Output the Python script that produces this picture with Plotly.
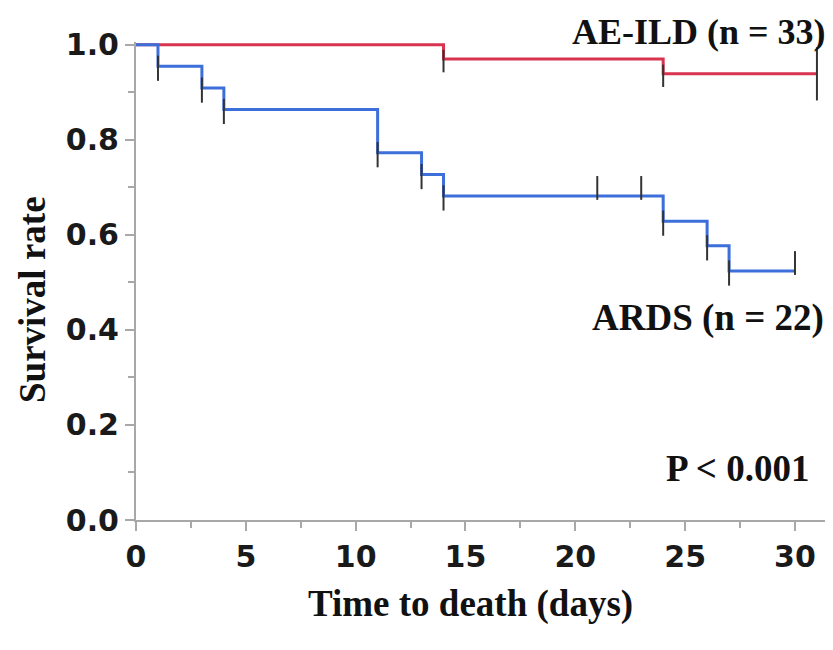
import plotly.graph_objects as go

# ---- data ----
ards_time = [0, 1, 3, 4, 11, 13, 14, 24, 26, 27, 30]
ards_surv = [1.0, 0.955, 0.909, 0.864, 0.773, 0.727, 0.682, 0.629, 0.577, 0.524, 0.524]
ards_event_time = [1, 3, 4, 11, 13, 14, 24, 26, 27]
ards_event_surv = [0.955, 0.909, 0.864, 0.773, 0.727, 0.682, 0.629, 0.577, 0.524]
ards_censor_time = [21, 23, 30]
ards_censor_surv = [0.682, 0.682, 0.524]

ae_time = [0, 14, 24, 31]
ae_surv = [1.0, 0.970, 0.939, 0.939]
ae_event_time = [14, 24]
ae_event_surv = [0.970, 0.939]
ae_censor_time = [31]
ae_censor_surv = [0.939]

x_ticks = [0, 5, 10, 15, 20, 25, 30]
y_ticks = [0.0, 0.2, 0.4, 0.6, 0.8, 1.0]
y_ticklabels = ["0.0", "0.2", "0.4", "0.6", "0.8", "1.0"]

RED = "#d9344f"
BLUE = "#3d6fdb"
TICKC = "#333333"
AXC = "#a8a8a8"

# page body has an 8px default margin; compensate so the picture lines up
OFF = 8
W, H = 833 - OFF, 650 - OFF
ML, MR, MT, MB = 136 - OFF, 0, 42 - OFF, 130
PLOT_H = H - MT - MB
Y_TOP = 1.006
px = Y_TOP / PLOT_H

def py(pix):
    # target-image pixel row -> paper y
    return (H - MB - (pix - OFF)) / PLOT_H

def pxp(pix):
    # target-image pixel col -> paper x
    return ((pix - OFF) - ML) / (W - ML - MR)

fig = go.Figure()

fig.add_trace(go.Scatter(x=ae_time, y=ae_surv, mode="lines", line_shape="hv",
                         line=dict(color=RED, width=3), hoverinfo="skip"))
fig.add_trace(go.Scatter(x=ards_time, y=ards_surv, mode="lines", line_shape="hv",
                         line=dict(color=BLUE, width=3), hoverinfo="skip"))

def ticks(xs, ys, off_px, size):
    return go.Scatter(
        x=xs, y=[v + off_px * px for v in ys], mode="markers",
        marker=dict(symbol="line-ns", size=size, color=TICKC,
                    line=dict(color=TICKC, width=2)),
        hoverinfo="skip", cliponaxis=False)

fig.add_trace(ticks(ards_event_time, ards_event_surv, -2, 18))
fig.add_trace(ticks(ae_event_time, ae_event_surv, -2, 16))
fig.add_trace(ticks(ards_censor_time, ards_censor_surv, 8, 17))
fig.add_trace(ticks(ae_censor_time, ae_censor_surv, 0, 38))

tickfont = dict(family="DejaVu Sans", size=30, color="#1a1a1a", weight=600)
annfont = dict(family="Liberation Serif", size=37, color="#111111", weight="bold")
topfont = dict(family="Liberation Serif", size=36, color="#111111", weight="bold")

fig.update_layout(
    width=W, height=H,
    margin=dict(l=ML, r=MR, t=MT, b=MB),
    paper_bgcolor="white", plot_bgcolor="white",
    showlegend=False,
    font=dict(family="Liberation Serif"),
    xaxis=dict(range=[0, 32.1 - OFF / 21.7], tickmode="array", tickvals=x_ticks,
               automargin=False,
               showgrid=False, zeroline=False, showline=True,
               linecolor=AXC, linewidth=2,
               ticks="outside", ticklen=9, tickwidth=1.5, tickcolor=AXC,
               tickfont=tickfont,
               minor=dict(dtick=2.5, tick0=0, ticks="outside", ticklen=6,
                          tickwidth=1.5, tickcolor=AXC, showgrid=False)),
    yaxis=dict(range=[0, Y_TOP], tickmode="array", tickvals=y_ticks,
               ticktext=y_ticklabels, automargin=False,
               showgrid=False, zeroline=False, showline=True,
               linecolor=AXC, linewidth=2,
               ticks="outside", ticklen=9, tickwidth=1.5, tickcolor=AXC,
               tickfont=tickfont,
               minor=dict(dtick=0.1, tick0=0, ticks="outside", ticklen=6,
                          tickwidth=1.5, tickcolor=AXC, showgrid=False)),
)

# axis titles
fig.add_annotation(text="Time to death (days)", x=pxp(470), y=py(604),
                   xref="paper", yref="paper", xanchor="center", yanchor="middle",
                   showarrow=False, font=annfont)
fig.add_annotation(text="Survival rate", x=pxp(32), y=py(300), textangle=-90,
                   xref="paper", yref="paper", xanchor="center", yanchor="middle",
                   showarrow=False, font=annfont)

# group labels and p-value
fig.add_annotation(text="AE-ILD (n = 33)", x=pxp(827), y=py(32), borderpad=0,
                   xref="paper", yref="paper", xanchor="right", yanchor="middle",
                   showarrow=False, font=topfont)
fig.add_annotation(text="ARDS (n = 22)", x=pxp(826), y=py(318),
                   xref="paper", yref="paper", xanchor="right", yanchor="middle",
                   showarrow=False, font=annfont)
fig.add_annotation(text="P < 0.001", x=pxp(811), y=py(468),
                   xref="paper", yref="paper", xanchor="right", yanchor="middle",
                   showarrow=False, font=annfont)

fig.write_html("out.html")
